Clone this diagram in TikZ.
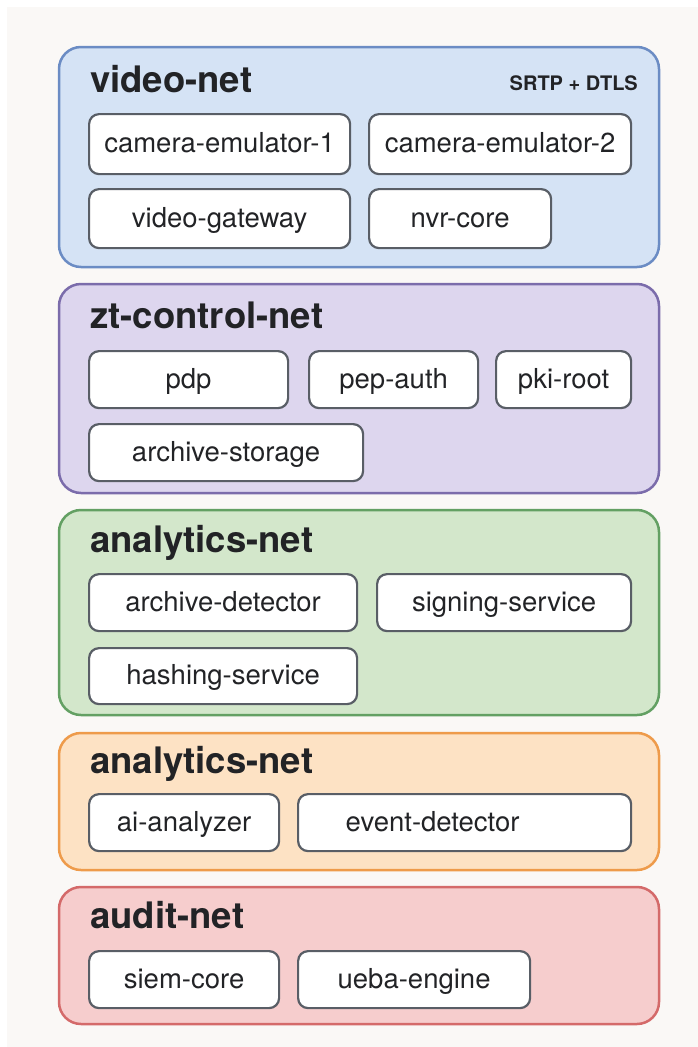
\documentclass[tikz,border=0pt]{standalone}
\usepackage{fontspec}
\setmainfont{TeX Gyre Heros}
\definecolor{ink}{HTML}{222326}
\definecolor{paper}{HTML}{FAF8F6}
\definecolor{svcline}{HTML}{595E66}
\definecolor{blueF}{HTML}{D5E3F5}\definecolor{blueD}{HTML}{6B8CC4}
\definecolor{purpF}{HTML}{DDD6EE}\definecolor{purpD}{HTML}{7B6CAB}
\definecolor{greenF}{HTML}{D3E7CB}\definecolor{greenD}{HTML}{63A063}
\definecolor{orngF}{HTML}{FDE2C4}\definecolor{orngD}{HTML}{EE9B4B}
\definecolor{redF}{HTML}{F6CDCD}\definecolor{redD}{HTML}{D46A6A}
\tikzset{
  netbox/.style={line width=2.5pt, rounded corners=22pt},
  nettitle/.style={anchor=base west, inner sep=0pt, text=ink, font=\fontsize{36.5}{40}\selectfont\bfseries},
  svcbox/.style={draw=svcline, fill=white, line width=2.2pt, rounded corners=10pt,
    anchor=north west, inner sep=0pt, text=ink, text height=17pt, text depth=0pt,
    font=\fontsize{27.5}{30}\selectfont},
}
% service box: name, left, top, right, bottom, label
\newcommand\svcnode[6]{%
  \node[svcbox, minimum width={(#4-#2)*1pt}, minimum height={(#5-#3)*1pt}] (#1) at (#2pt,-#3pt) {#6};}
% network zone: name, top, bottom, fill, border
\newcommand\zone[5]{%
  \path[netbox, fill=#4, draw=#5] (59pt,-#2pt) rectangle (659pt,-#3pt);
  \coordinate (#1) at (59pt,-#2pt);}
\begin{document}
\begin{tikzpicture}[x=1pt,y=1pt]
  \useasboundingbox (0,0) rectangle (698,-1047);
  \fill[white] (0,0) rectangle (698,-1047);
  \fill[paper] (7,-7) rectangle (698,-1047);

  % video-net
  \zone{videonet}{47}{267}{blueF}{blueD}
  \node[nettitle] (tvideo) at (90,-92) {video-net};
  \node[anchor=base east, inner sep=0pt, text=ink, font=\fontsize{20}{24}\selectfont\bfseries] (srtp) at (638,-90) {SRTP + DTLS};
  \svcnode{cam1}{88}{113}{349}{173}{camera-emulator-1}
  \svcnode{cam2}{368}{113}{630}{173}{camera-emulator-2}
  \svcnode{vgw}{88}{188}{349}{247}{video-gateway}
  \svcnode{nvr}{368}{188}{550}{247}{nvr-core}

  % zt-control-net
  \zone{ztnet}{284}{493}{purpF}{purpD}
  \node[nettitle] (tzt) at (90,-328) {zt-control-net};
  \svcnode{pdp}{88}{350}{287}{407}{pdp}
  \svcnode{pep}{308}{350}{477}{407}{pep-auth}
  \svcnode{pki}{495}{350}{630}{407}{pki-root}
  \svcnode{arcst}{88}{423}{362}{480}{archive-storage}

  % analytics-net (green)
  \zone{annetA}{510}{715}{greenF}{greenD}
  \node[nettitle] (tanA) at (90,-552) {analytics-net};
  \svcnode{arcdet}{88}{573}{356}{630}{archive-detector}
  \svcnode{sign}{376}{573}{630}{630}{signing-service}
  \svcnode{hash}{88}{647}{356}{703}{hashing-service}

  % analytics-net (orange)
  \zone{annetB}{733}{870}{orngF}{orngD}
  \node[nettitle] (tanB) at (90,-773) {analytics-net};
  \svcnode{ai}{88}{793}{278}{850}{ai-analyzer}
  \svcnode{evt}{297}{793}{630}{850}{event-detector\hspace*{64pt}}

  % audit-net
  \zone{auditnet}{887}{1024}{redF}{redD}
  \node[nettitle] (taudit) at (90,-928) {audit-net};
  \svcnode{siem}{88}{950}{278}{1007}{siem-core}
  \svcnode{ueba}{297}{950}{529}{1007}{ueba-engine}
\end{tikzpicture}
\end{document}
